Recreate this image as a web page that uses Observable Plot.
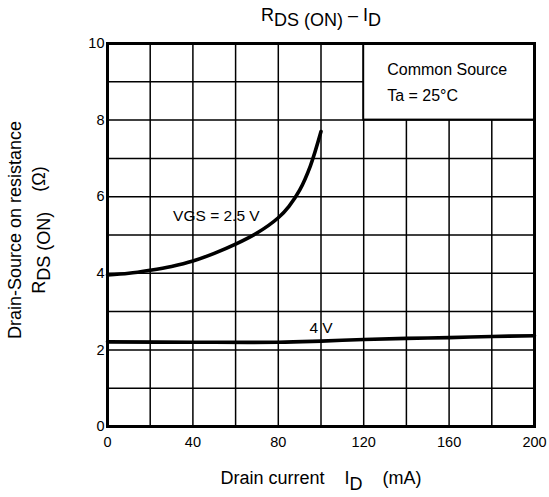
<!DOCTYPE html>
<html><head><meta charset="utf-8">
<script src="https://cdn.jsdelivr.net/npm/d3@7"></script>
<script src="https://cdn.jsdelivr.net/npm/@observablehq/plot@0.6"></script>
<style>body{margin:0;background:#fff} svg text{white-space:pre}</style>
</head><body><div id="chart"></div>
<script>
// Axis ticks and grid
const xTicks = [0, 40, 80, 120, 160, 200];
const yTicks = [0, 2, 4, 6, 8, 10];
const gridX = [20, 40, 60, 80, 100, 120, 140, 160, 180];
const gridY = [1, 2, 3, 4, 5, 6, 7, 8, 9];
// Series: VGS = 2.5 V
const id25 = [0, 10, 20, 30, 40, 50, 60, 70, 80, 85, 90, 95, 100];
const r25 = [3.96, 4.0, 4.08, 4.18, 4.32, 4.52, 4.76, 5.05, 5.45, 5.75, 6.17, 6.8, 7.7];
// Series: VGS = 4 V
const id4 = [0, 40, 80, 100, 120, 140, 160, 180, 200];
const r4 = [2.21, 2.2, 2.2, 2.23, 2.27, 2.3, 2.32, 2.35, 2.37];
// Texts
const titleParts = [["R", false], ["DS (ON)", true], [" \u2013 I", false], ["D", true]];
const xLabelParts = [["Drain current    I", false], ["D", true], ["    (mA)", false]];
const yLabel1 = "Drain-Source on resistance";
const yLabel2Parts = [["R", false], ["DS (ON)", true], ["    (\u03A9)", false]];
const curveLabels = [{x: 51, y: 5.5, text: "VGS = 2.5 V"}, {x: 100, y: 2.58, text: "4 V"}];
const boxArea = [{x1: 120, x2: 200, y1: 8, y2: 10}];
const boxLines = [{x: 131, y: 9.31, text: "Common Source"}, {x: 131, y: 8.64, text: "Ta = 25\u00B0C"}];

const s25 = id25.map((x, i) => ({x, y: r25[i]}));
const s4 = id4.map((x, i) => ({x, y: r4[i]}));
const plain = parts => parts.map(p => p[0]).join("");

const svg = Plot.plot({
  width: 549, height: 497,
  marginLeft: 107, marginRight: 15, marginTop: 43, marginBottom: 71,
  style: {fontFamily: "'Liberation Sans', Arial, sans-serif", fontSize: "14.5px", color: "black", background: "white", overflow: "visible"},
  x: {domain: [0, 200]},
  y: {domain: [0, 10]},
  marks: [
    Plot.ruleX(gridX, {y1: 0, y2: 10, stroke: "black", strokeWidth: 1.5}),
    Plot.ruleY(gridY, {x1: 0, x2: 200, stroke: "black", strokeWidth: 1.5}),
    Plot.rect(boxArea, {x1: "x1", x2: "x2", y1: "y1", y2: "y2", fill: "white", stroke: "black", strokeWidth: 2}),
    Plot.text(boxLines, {x: "x", y: "y", text: "text", textAnchor: "start", fontSize: 16, fill: "black"}),
    Plot.line(s25, {x: "x", y: "y", curve: "catmull-rom", stroke: "black", strokeWidth: 3.6}),
    Plot.line(s4, {x: "x", y: "y", curve: "catmull-rom", stroke: "black", strokeWidth: 3.6}),
    Plot.text(curveLabels, {x: "x", y: "y", text: "text", fontSize: 15.5, fill: "black"}),
    Plot.frame({stroke: "black", strokeWidth: 3}),
    Plot.axisX(xTicks, {tickSize: 0, tickPadding: 10, label: null, fontSize: 14.5}),
    Plot.axisY(yTicks, {tickSize: 0, tickPadding: 3, label: null, fontSize: 14.5}),
    Plot.text([plain(titleParts)], {frameAnchor: "top", textAnchor: "middle", lineAnchor: "middle", dy: -28, fontSize: 18}),
    Plot.text([plain(xLabelParts)], {frameAnchor: "bottom", textAnchor: "middle", lineAnchor: "middle", dy: 52, fontSize: 18}),
    Plot.text([yLabel1], {frameAnchor: "left", textAnchor: "middle", lineAnchor: "middle", dx: -92, dy: -5, rotate: -90, fontSize: 18}),
    Plot.text([plain(yLabel2Parts)], {frameAnchor: "left", textAnchor: "middle", lineAnchor: "middle", dx: -68, dy: -5, rotate: -90, fontSize: 18})
  ]
});

function rich(parts, shift) {
  const full = plain(parts);
  const t = d3.select(svg).selectAll("text").filter(function() { return this.textContent === full; });
  t.text(null);
  let prevSub = false;
  parts.forEach(([s, sub]) => {
    const ts = t.append("tspan").text(s);
    if (sub && !prevSub) ts.attr("dy", shift);
    if (!sub && prevSub) ts.attr("dy", -shift);
    prevSub = sub;
  });
}
rich(titleParts, 4.5);
rich(xLabelParts, 6);
rich(yLabel2Parts, 5);

document.getElementById("chart").appendChild(svg);
</script>
</body></html>
